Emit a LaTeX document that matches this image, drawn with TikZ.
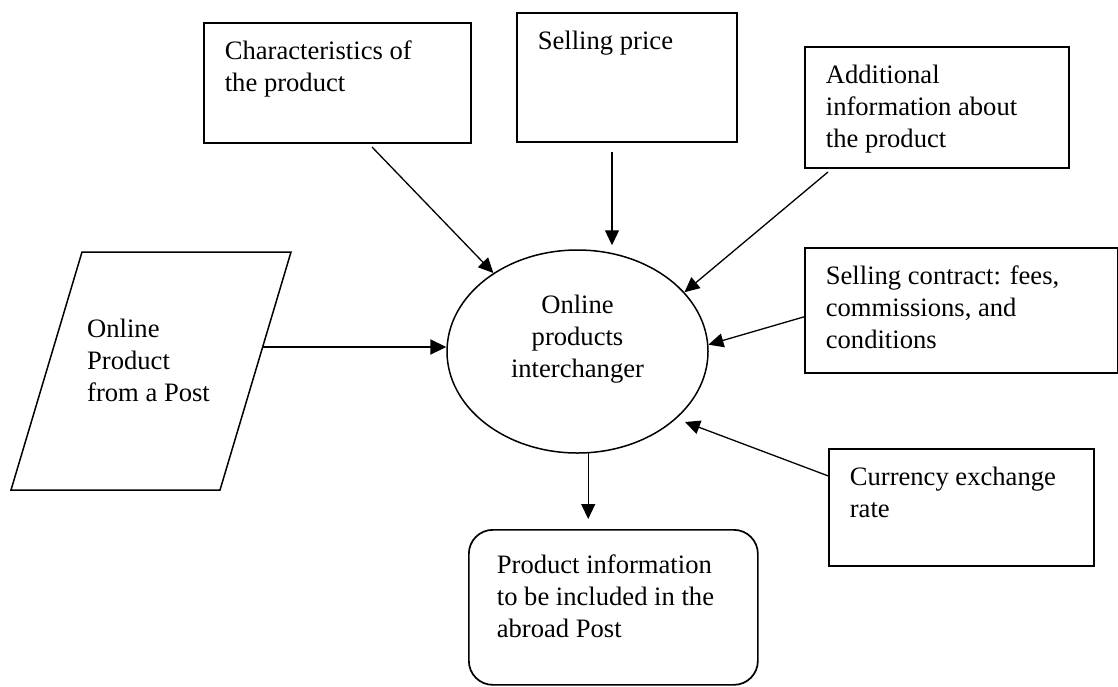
\documentclass[tikz,border=0pt]{standalone}
\usepackage{fontspec}
\setmainfont{Liberation Serif}
\usetikzlibrary{arrows.meta,shapes.geometric}

% text that starts at the top of a fixed-size box
\newcommand{\toptext}[3]{\parbox[c][#2][t]{#1}{\raggedright\rule{0pt}{18pt}#3}}

\begin{document}
\begin{tikzpicture}[x=1pt,y=-1pt,
  txt/.style={font=\fontsize{26.6}{32}\selectfont},
  box/.style={draw,line width=1.7pt,anchor=north west,inner xsep=21pt,inner ysep=18pt,txt},
  rbox/.style={box,rounded corners=24pt,inner xsep=28pt,inner ysep=25pt},
  proc/.style={draw,ellipse,line width=1.5pt,inner sep=0pt,minimum width=261pt,
               minimum height=203pt,align=center,txt},
  arr/.style={-{Triangle[length=15pt,width=14pt]},line width=1.3pt},
  thickarr/.style={-{Triangle[length=16pt,width=15pt]},line width=2.3pt}
]
\useasboundingbox (0,0) rectangle (1118,686);

% Input boxes
\node[box] (char)     at (203,22)  {\toptext{225pt}{84pt}{Characteristics of\\the product}};
\node[box] (price)    at (516,12)  {\toptext{178pt}{93pt}{Selling price}};
\node[box] (extra)    at (804,46)  {\toptext{222pt}{85pt}{Additional\\information about\\the product}};
\node[box] (contract) at (804,247) {\toptext{271pt}{89pt}{Selling contract: fees,\\commissions, and\\conditions}};
\node[box] (rate)     at (828,448) {\toptext{223pt}{81pt}{Currency exchange\\rate}};

% Post from the online shop
\draw[line width=1.5pt] (11,490) -- (82,252) -- (291,252) -- (220,490) -- cycle;
\node[txt,anchor=north west,inner sep=0pt] (post) at (87,319) {\toptext{170pt}{100pt}{Online\\Product\\from a Post}};

% Interchanger
\node[proc] (ell) at (577.5,351.5) {Online\\products\\interchanger\rule[-30.8pt]{0pt}{30.8pt}};

% Output
\node[rbox] (out) at (468,529) {\toptext{233pt}{105pt}{Product information\\to be included in the\\abroad Post}};

% Arrows
\coordinate (chartail)  at (372,147);
\coordinate (pricetail) at (612,152);
\coordinate (extratail) at (828,172);
\coordinate (posttail)  at (263,347);
\coordinate (ratehead)  at (685,422);

\draw[arr] (chartail) -- (ell.137);
\draw[arr,shorten >=4pt] (pricetail) -- (pricetail |- ell.north);
\draw[arr] (extratail) -- (ell.29);
\draw[arr] ([yshift=-6.5pt]contract.west) -- (ell.3);
\draw[arr] ([yshift=31.5pt]rate.west) -- (ratehead);
\draw[thickarr] (posttail) -- (posttail -| ell.west);
\draw[arr,shorten >=10pt] (ell.-84) -- (ell.-84 |- out.north);

\end{tikzpicture}
\end{document}
